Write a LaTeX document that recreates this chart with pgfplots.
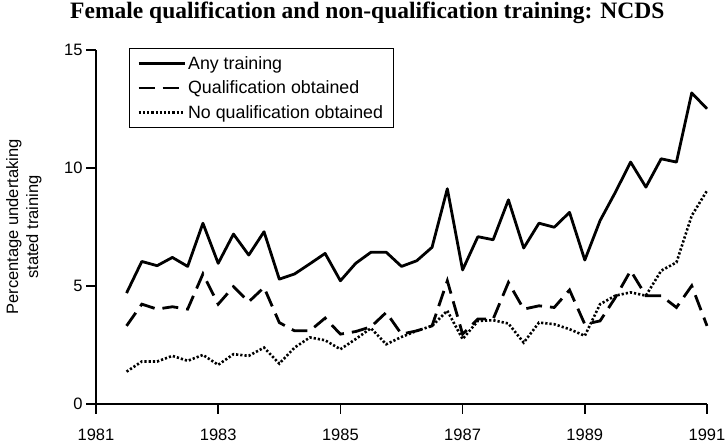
\documentclass[border=0pt]{standalone}
\usepackage{fontspec}
\setmainfont{Liberation Sans}
\newfontfamily\titlefont{Liberation Serif}
\usepackage{pgfplots}
\pgfplotsset{compat=1.18}
\usepackage{pgfplotstable}

\pgfplotstableread{
t any qual noqual
1981.50 4.70 3.31 1.37
1981.75 6.04 4.23 1.80
1982.00 5.86 4.02 1.80
1982.25 6.21 4.12 2.04
1982.50 5.83 4.02 1.83
1982.75 7.66 5.51 2.08
1983.00 5.96 4.23 1.66
1983.25 7.20 4.97 2.11
1983.50 6.31 4.33 2.04
1983.75 7.30 4.94 2.39
1984.00 5.29 3.45 1.71
1984.25 5.51 3.10 2.39
1984.50 5.94 3.10 2.82
1984.75 6.38 3.64 2.70
1985.00 5.22 2.96 2.32
1985.25 5.96 3.07 2.75
1985.50 6.43 3.27 3.21
1985.75 6.43 3.88 2.53
1986.00 5.83 2.96 2.84
1986.25 6.07 3.10 3.10
1986.50 6.64 3.31 3.31
1986.75 9.12 5.22 3.95
1987.00 5.68 2.96 2.75
1987.25 7.09 3.60 3.52
1987.50 6.96 3.60 3.55
1987.75 8.65 5.15 3.41
1988.00 6.61 4.02 2.60
1988.25 7.66 4.16 3.45
1988.50 7.49 4.09 3.38
1988.75 8.12 4.83 3.17
1989.00 6.10 3.38 2.89
1989.25 7.77 3.52 4.23
1989.50 8.97 4.51 4.59
1989.75 10.25 5.65 4.73
1990.00 9.19 4.59 4.59
1990.25 10.39 4.59 5.65
1990.50 10.25 4.09 6.00
1990.75 13.18 5.01 7.98
1991.00 12.51 3.31 9.04
}\datatable

\begin{document}
\begin{tikzpicture}
\begin{axis}[
  scale only axis, width=611pt, height=354pt,
  xmin=1981, xmax=1991, ymin=0, ymax=15,
  axis lines=left, axis line style={-, line width=1.4pt},
  xtick={1981,1983,...,1991}, ytick={0,5,10,15},
  minor tick num=0,
  tick align=outside, major tick length=10pt,
  tick style={line width=1.4pt, black},
  /pgf/number format/1000 sep={},
  /pgf/number format/assume math mode=true,
  tick label style={font=\fontsize{16.5}{18}\selectfont},
  xticklabel style={yshift=-11pt},
  ylabel={Percentage undertaking\\stated training},
  ylabel style={at={(axis description cs:-0.118,0.5)}, anchor=center, align=center,
    font=\fontsize{16.5}{20}\selectfont},
  title={Female qualification and non-qualification training: NCDS},
  title style={at={(axis description cs:0.444,1.0725)}, anchor=base,
    font=\titlefont\bfseries\fontsize{23.5}{26}\selectfont},
  legend style={at={(axis description cs:0.054,1.0056)}, anchor=north west,
    draw=black, line width=0.7pt, font=\fontsize{17.8}{20}\selectfont,
    inner xsep=8pt, inner ysep=6pt, row sep=6pt},
  legend cell align=left,
  legend image code/.code={\draw[#1] (0pt,0pt) -- (46pt,0pt);},
  clip=false,
]
\addplot[black, line width=2.8pt, line join=round] table[x=t, y=any] {\datatable};
\addlegendentry{Any training}
\addplot[black, line width=2.8pt, dash pattern=on 16pt off 8pt] table[x=t, y=qual] {\datatable};
\addlegendentry{Qualification obtained}
\addplot[black, line width=2.6pt, dash pattern=on 2.2pt off 2pt] table[x=t, y=noqual] {\datatable};
\addlegendentry{No qualification obtained}
\end{axis}
\pgfresetboundingbox
\path[use as bounding box] ([shift={(-96pt,-39pt)}]current axis.south west) rectangle ([shift={(19pt,50pt)}]current axis.north east);
\end{tikzpicture}
\end{document}
